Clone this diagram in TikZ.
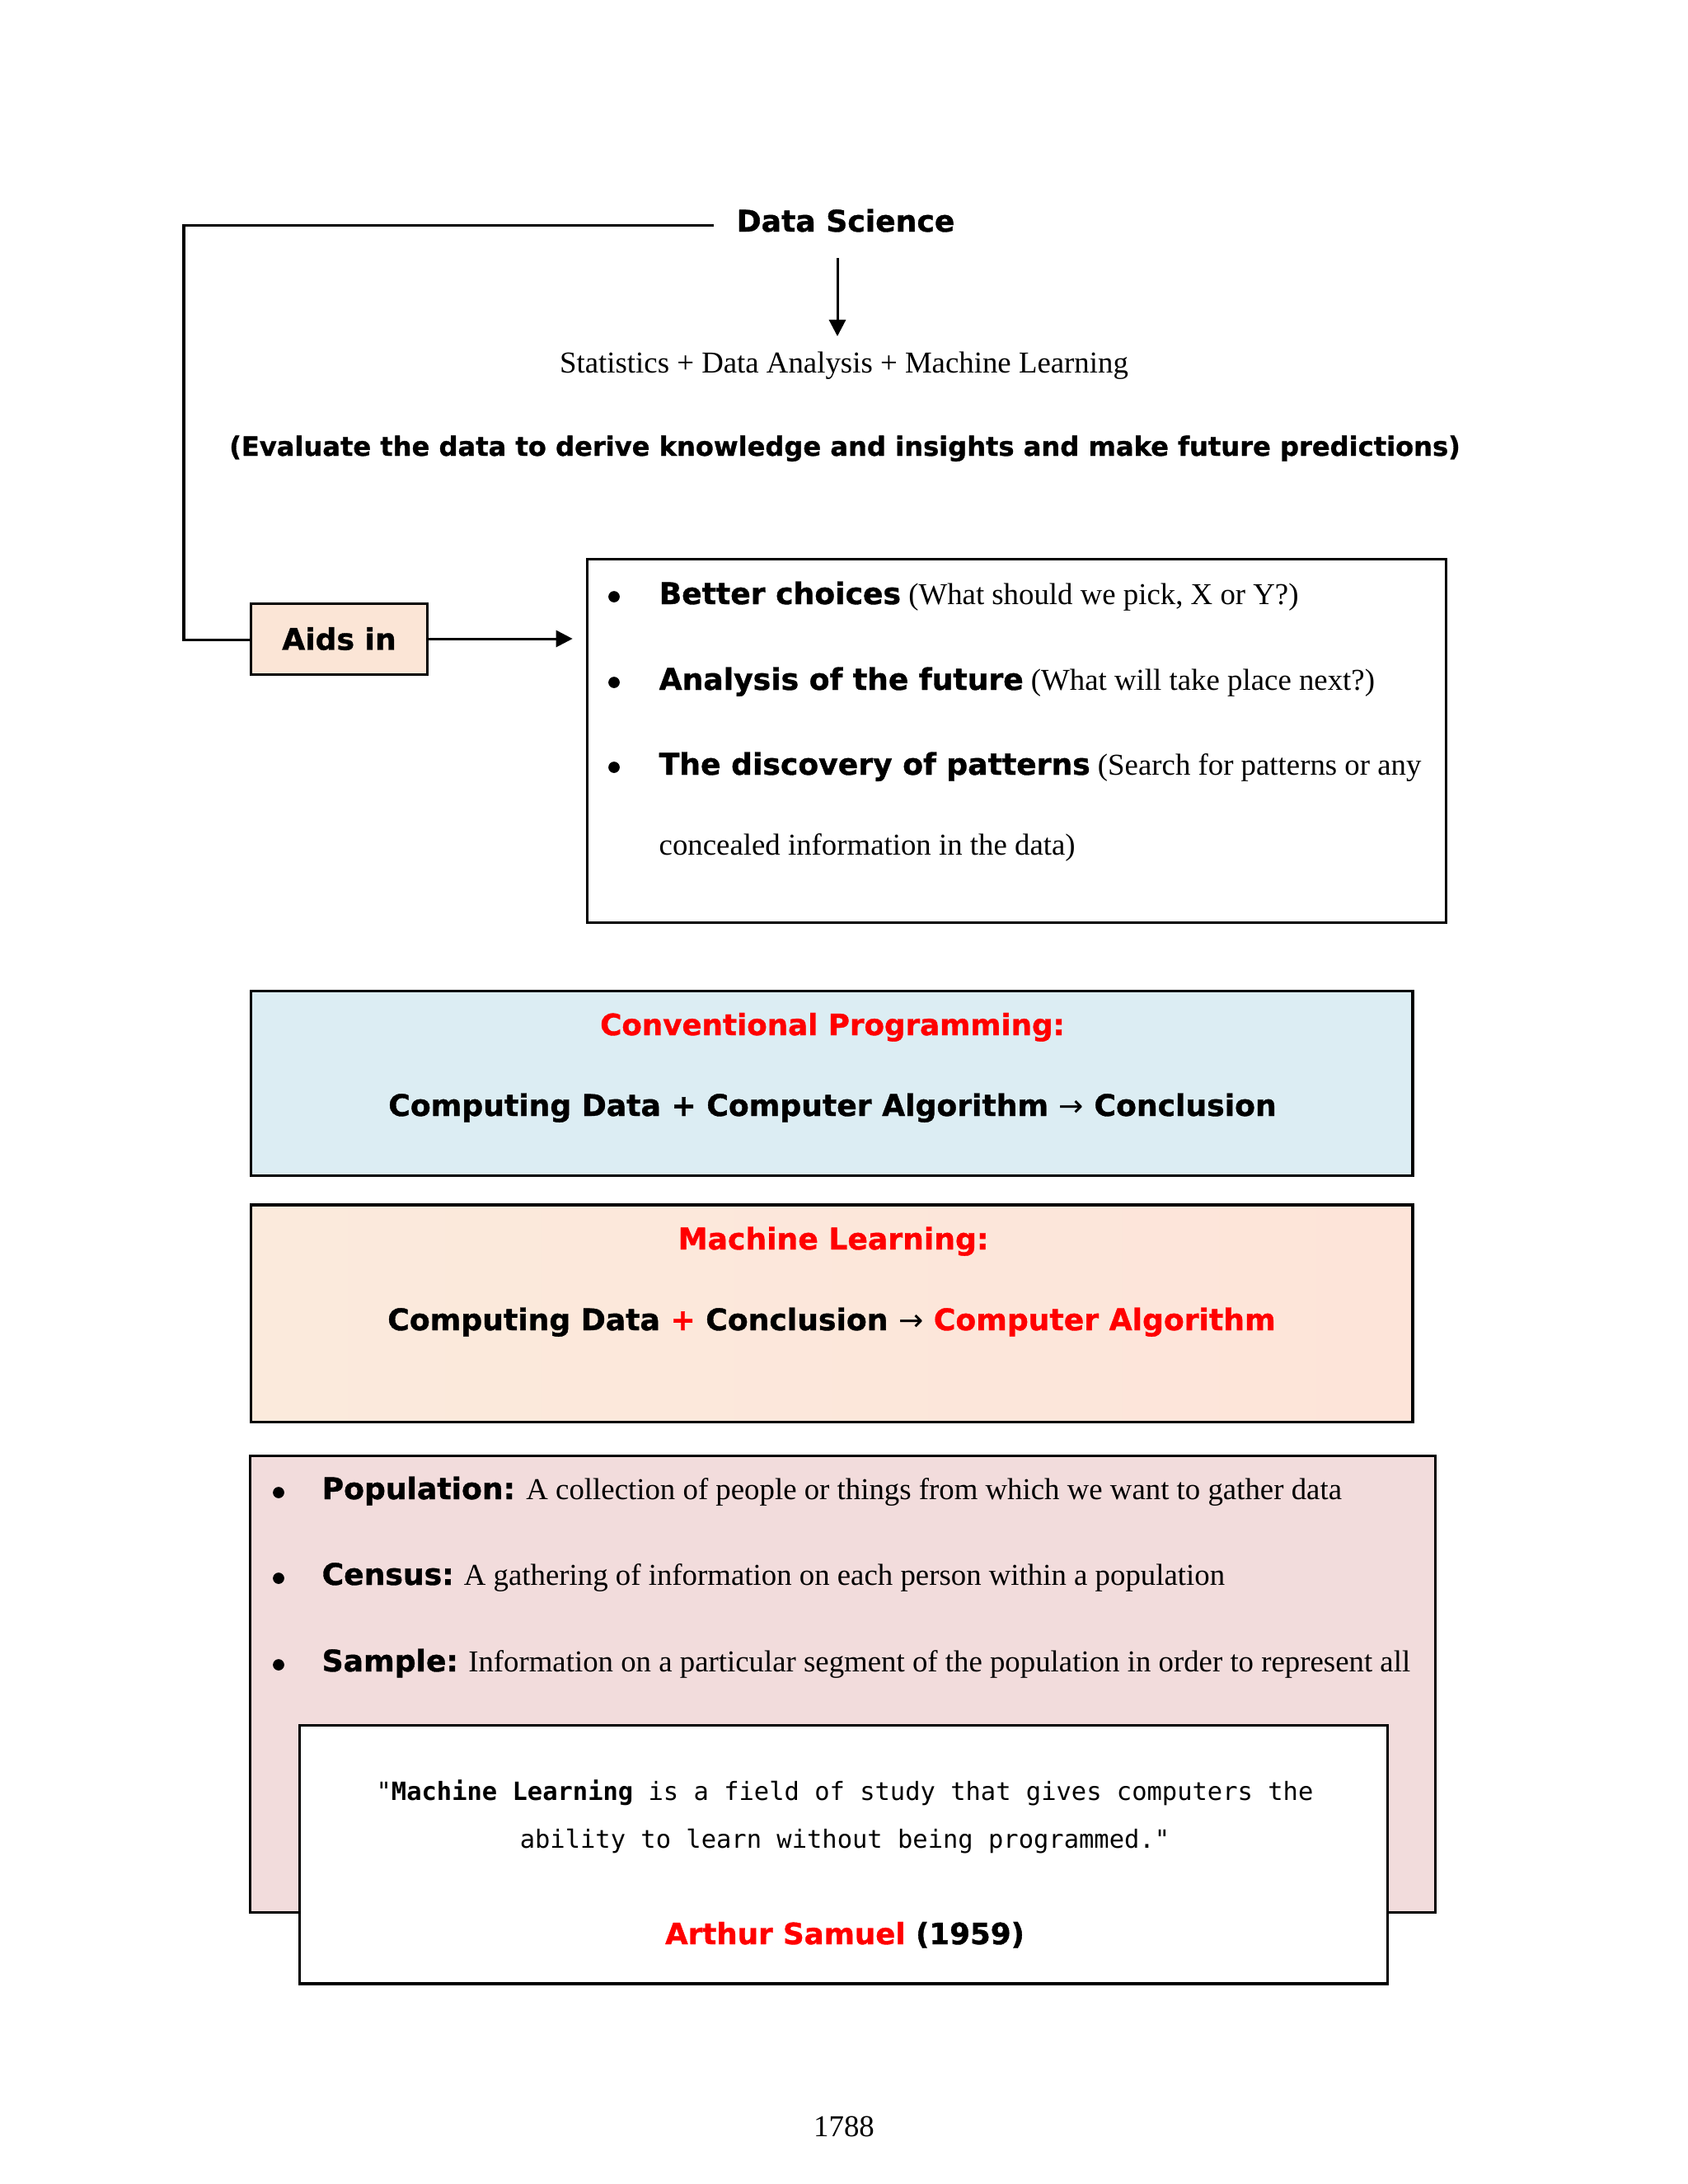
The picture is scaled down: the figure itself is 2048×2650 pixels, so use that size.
\documentclass[tikz,border=0pt]{standalone}
\usepackage{fontspec}
\setmainfont{Liberation Serif}
\setsansfont{DejaVu Sans}[BoldFeatures={FakeBold=1}]
\setmonofont{DejaVu Sans Mono}
\usetikzlibrary{arrows.meta}
\definecolor{cpblue}{HTML}{DCEDF3}
\definecolor{mlpeachL}{HTML}{FBEADC}
\definecolor{mlpeachR}{HTML}{FDE4D9}
\definecolor{aidpeach}{HTML}{FBE5D6}
\definecolor{defpink}{HTML}{F2DCDC}
\definecolor{hotred}{HTML}{FF0000}
\newcommand{\bsf}{\fontsize{10.8}{13}\selectfont\sffamily\bfseries}
\newcommand{\bsfs}{\fontsize{10.65}{13}\selectfont\sffamily\bfseries}
\newcommand{\bsfe}{\fontsize{9.6}{12}\selectfont\sffamily\bfseries}
\newcommand{\srf}{\fontsize{11}{13}\selectfont\rmfamily\mdseries}
\newcommand{\qtf}{\fontsize{9.1}{11}\selectfont\ttfamily\mdseries}
\newcommand{\rarr}{{\fontsize{10.8}{13}\selectfont\sffamily\mdseries →}}
\begin{document}
\begin{tikzpicture}[x=0.2988pt,y=-0.2988pt,
  boxd/.style={draw=black,line width=0.9pt},
  conn/.style={line width=0.9pt},
  arr/.style={conn,-{Triangle[length=6pt,width=6pt]}},
  lab/.style={inner sep=0pt,anchor=base},
  labw/.style={inner sep=0pt,anchor=base west},
  bul/.style={circle,fill=black,inner sep=0pt,minimum size=4.1pt}]
\fill[white] (0,0) rectangle (2048,2650);
\useasboundingbox (0,0) rectangle (2048,2650);

% top part
\node[lab,font=\bsf] (ds) at (1026,281) {Data Science};
\node[lab,font=\srf] (stats) at (1024,452) {Statistics + Data Analysis + Machine Learning};
\node[lab,font=\bsfe] (eval) at (1025,553) {(Evaluate the data to derive knowledge and insights and make future predictions)};
\node[boxd,fill=aidpeach,minimum width=64.2pt,minimum height=25.7pt,font=\bsf,inner sep=0pt] (aids) at (411.5,775) {Aids in};
\node[boxd,fill=white,minimum width=311.1pt,minimum height=131.5pt] (ben) at (1233.5,899) {};

\coordinate (tl) at (223,273);
\coordinate (bl) at (223,776);
\coordinate (dtop) at (1016,313);
\coordinate (dbot) at (1016,408);
\draw[conn,shorten <=8pt] (ds.west |- tl) -- (tl) -- (bl) -- (bl -| aids.west);
\draw[arr] (dtop) -- (dbot);
\draw[arr,shorten >=5pt] (aids.east) -- (aids.east -| ben.west);

\node[bul] (bu1) at (745,724) {};
\node[bul] (bu2) at (745,828) {};
\node[bul] (bu3) at (745,931) {};
\node[labw,font=\srf] (b1) at (799,733) {{\bsf Better choices} (What should we pick, X or Y?)};
\node[labw,font=\srf] (b2) at (799,837) {{\bsf Analysis of the future} (What will take place next?)};
\node[labw,font=\srf] (b3) at (799,940) {{\bsf The discovery of patterns} (Search for patterns or any};
\node[labw,font=\srf] (b3b) at (799,1037) {concealed information in the data)};

% conventional programming
\node[boxd,fill=cpblue,minimum width=421.3pt,minimum height=67.2pt] (conv) at (1009,1314.5) {};
\node[lab,font=\bsfs,text=hotred] (convt) at (1010,1256) {Conventional Programming:};
\node[lab,font=\bsf] (convf) at (1010,1354) {Computing Data + Computer Algorithm \rarr{} Conclusion};

% machine learning
\node[boxd,left color=mlpeachL,right color=mlpeachR,minimum width=421.3pt,minimum height=78.6pt] (ml) at (1009,1593.5) {};
\node[lab,font=\bsf,text=hotred] (mlt) at (1011,1516) {Machine Learning:};
\node[lab,font=\bsf] (mlf) at (1009,1614) {Computing Data {\color{hotred}+} Conclusion \rarr{} {\color{hotred}Computer Algorithm}};

% definitions
\node[boxd,fill=defpink,minimum width=429.4pt,minimum height=165.8pt] (defs) at (1022.5,2043.5) {};
\node[bul] (du1) at (338,1811) {};
\node[bul] (du2) at (338,1915) {};
\node[bul] (du3) at (338,2020) {};
\node[labw,font=\srf] (d1) at (390,1819) {{\bsf Population:}\hspace{4pt}A collection of people or things from which we want to gather data};
\node[labw,font=\srf] (d2) at (390,1923) {{\bsf Census:} A gathering of information on each person within a population};
\node[labw,font=\srf] (d3) at (390,2028) {{\bsf Sample:} Information on a particular segment of the population in order to represent all};

% quote
\node[boxd,fill=white,minimum width=394.7pt,minimum height=93.8pt] (quote) at (1023.5,2250) {};
\node[lab,font=\qtf] (q1) at (1025,2184) {"{\bfseries Machine Learning} is a field of study that gives computers the};
\node[lab,font=\qtf] (q2) at (1025,2242) {ability to learn without being programmed."};
\node[lab,font=\bsfs] (auth) at (1025,2359) {{\color{hotred}Arthur Samuel} (1959)};

\node[lab,font=\srf] (pg) at (1024,2592) {1788};
\end{tikzpicture}
\end{document}
